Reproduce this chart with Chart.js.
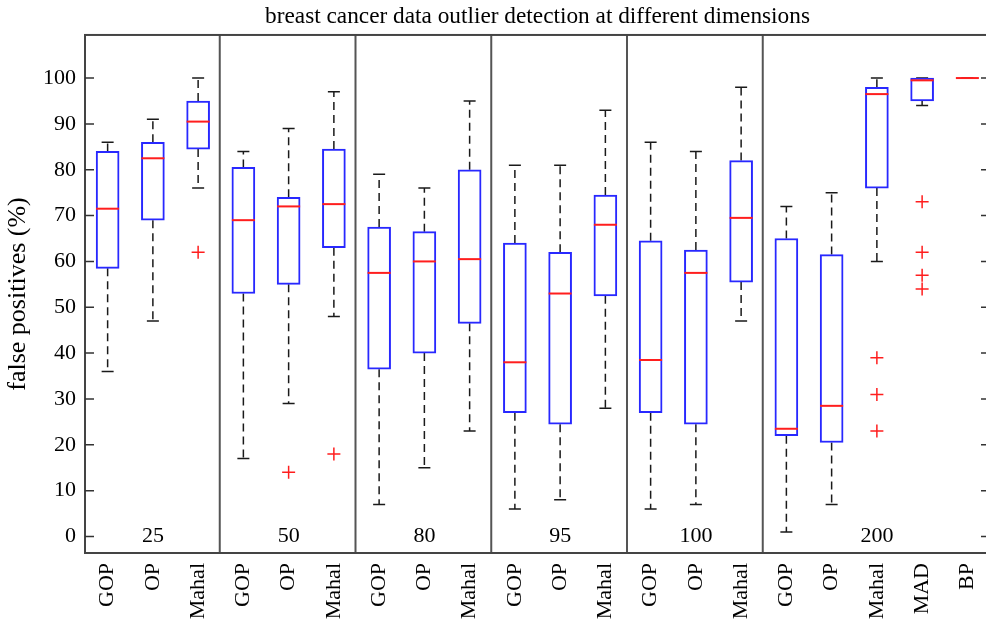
<!DOCTYPE html>
<html>
<head>
<meta charset="utf-8">
<script src="https://cdn.jsdelivr.net/npm/chart.js@4"></script>
<style>
  html, body { margin: 0; padding: 0; background: #fff; overflow: hidden; }
  #boxChart { display: block; }
</style>
</head>
<body>
<canvas id="boxChart" width="998" height="621"></canvas>
<script>
// methods per dimension group, left to right
const methods = ['GOP', 'OP', 'Mahal', 'GOP', 'OP', 'Mahal', 'GOP', 'OP', 'Mahal',
  'GOP', 'OP', 'Mahal', 'GOP', 'OP', 'Mahal', 'GOP', 'OP', 'Mahal', 'MAD', 'BP'];
const dimensions = ['25', '50', '80', '95', '100', '200'];
const groupSizes = [3, 3, 3, 3, 3, 5];

// five-number summaries (false positives, %)
const lowerWhisker  = [36, 47, 76,   17, 29, 48,     7, 15, 23,     6, 8, 28,      6, 7, 47,      1, 7, 60, 94, 100];
const lowerQuartile = [58.5, 69, 84.5, 53, 55, 63,   36.5, 40, 46.5, 27, 24.5, 52.5, 27, 24.5, 55.5, 22, 20.5, 76, 95, 100];
const medians       = [71.5, 82.5, 90.5, 69, 72, 72.5, 57.5, 60, 60.5, 38, 53, 68,  38.5, 57.5, 69.5, 23.5, 28.5, 96.5, 99.5, 100];
const upperQuartile = [84, 86, 95,   80.5, 74, 84.5, 67.5, 66.5, 80,  64, 62, 74.5,  64.5, 62.5, 82, 65, 61.5, 98, 100, 100];
const upperWhisker  = [86, 91, 100,  84, 89, 97,     79, 76, 95,     81, 81, 93,     86, 84, 98,    72, 75, 100, 100, 100];

// outliers: category index and value
const outlierIndex = [2, 4, 5, 17, 17, 17, 18, 18, 18, 18];
const outlierValue = [62, 14, 18, 39, 31, 23, 73, 62, 57, 54];

const yTicks = [0, 10, 20, 30, 40, 50, 60, 70, 80, 90, 100];

const SERIF = "'Liberation Serif', 'Times New Roman', serif";
const BLUE = 'rgb(40,40,255)';
const RED = 'rgb(255,30,30)';

const boxParts = {
  id: 'boxParts',
  beforeDatasetsDraw(chart) {
    const { ctx, scales: { x, y } } = chart;
    ctx.save();
    ctx.strokeStyle = '#1a1a1a';
    ctx.lineWidth = 1.5;
    methods.forEach((m, i) => {
      const px = x.getPixelForValue(i);
      const lo = y.getPixelForValue(lowerWhisker[i]);
      const q1 = y.getPixelForValue(lowerQuartile[i]);
      const q3 = y.getPixelForValue(upperQuartile[i]);
      const hi = y.getPixelForValue(upperWhisker[i]);
      ctx.setLineDash([8, 5]);
      ctx.beginPath();
      ctx.moveTo(px, q3); ctx.lineTo(px, hi);
      ctx.moveTo(px, q1); ctx.lineTo(px, lo);
      ctx.stroke();
      ctx.setLineDash([]);
      ctx.beginPath();
      ctx.moveTo(px - 6, hi); ctx.lineTo(px + 6, hi);
      ctx.moveTo(px - 6, lo); ctx.lineTo(px + 6, lo);
      ctx.stroke();
    });
    ctx.restore();
  },
  afterDatasetsDraw(chart) {
    const { ctx, scales: { x, y } } = chart;
    ctx.save();
    ctx.strokeStyle = RED;
    ctx.lineWidth = 2;
    medians.forEach((v, i) => {
      const px = x.getPixelForValue(i);
      const py = y.getPixelForValue(v);
      ctx.beginPath();
      ctx.moveTo(px - 11.5, py); ctx.lineTo(px + 11.5, py);
      ctx.stroke();
    });
    ctx.restore();
  },
  afterDraw(chart) {
    const { ctx, chartArea: a, scales: { x, y } } = chart;
    ctx.save();
    // group separators and dimension labels
    ctx.strokeStyle = '#555';
    ctx.lineWidth = 2;
    let start = 0;
    groupSizes.forEach((n, g) => {
      const mid = start + Math.floor(n / 2);
      if (g > 0) {
        const sx = (x.getPixelForValue(start - 1) + x.getPixelForValue(start)) / 2 - 1;
        ctx.beginPath();
        ctx.moveTo(sx, a.top); ctx.lineTo(sx, a.bottom);
        ctx.stroke();
      }
      ctx.fillStyle = '#000';
      ctx.font = '22px ' + SERIF;
      ctx.textAlign = 'center';
      ctx.textBaseline = 'middle';
      ctx.fillText(dimensions[g], x.getPixelForValue(mid), y.getPixelForValue(0));
      start += n;
    });
    // frame
    ctx.strokeStyle = '#444';
    ctx.strokeRect(a.left, a.top, a.right - a.left, a.bottom - a.top);
    // inward y ticks on both sides
    ctx.lineWidth = 1.5;
    ctx.strokeStyle = '#333';
    yTicks.forEach(v => {
      const py = y.getPixelForValue(v);
      ctx.beginPath();
      ctx.moveTo(a.left, py); ctx.lineTo(a.left + 9, py);
      ctx.moveTo(a.right, py); ctx.lineTo(a.right - 9, py);
      ctx.stroke();
    });
    ctx.restore();
  }
};

new Chart(document.getElementById('boxChart'), {
  type: 'bar',
  data: {
    labels: methods,
    datasets: [{
      label: 'boxes',
      data: methods.map((m, i) => [lowerQuartile[i], upperQuartile[i]]),
      backgroundColor: '#fff',
      borderColor: BLUE,
      borderWidth: 2,
      borderSkipped: false,
      barThickness: 23
    }, {
      type: 'scatter',
      label: 'outliers',
      parsing: false,
      data: outlierIndex.map((c, i) => ({ x: c, y: outlierValue[i] })),
      pointStyle: 'cross',
      pointRadius: 6.5,
      borderColor: RED,
      backgroundColor: RED,
      borderWidth: 1.5
    }]
  },
  options: {
    responsive: false,
    animation: false,
    layout: { padding: { left: 0, right: 3, top: 0, bottom: 0 } },
    plugins: {
      legend: { display: false },
      tooltip: { enabled: false },
      title: {
        display: true,
        fullSize: false,
        text: 'breast cancer data outlier detection at different dimensions',
        color: '#000',
        font: { family: SERIF, size: 23.3, weight: 'normal' },
        padding: { top: 3, bottom: 4 }
      }
    },
    scales: {
      x: {
        type: 'category',
        grid: { display: false, drawTicks: false },
        border: { display: false },
        ticks: {
          autoSkip: false,
          minRotation: 90,
          maxRotation: 90,
          padding: 10,
          color: '#000',
          font: { family: SERIF, size: 22 }
        },
        afterFit(scale) {
          scale.height = 68;
          scale.paddingLeft = 0;
          scale.paddingRight = 0;
        }
      },
      y: {
        type: 'linear',
        min: -3.6,
        max: 109.4,
        grid: { display: false, drawTicks: false },
        border: { display: false },
        ticks: {
          padding: 9,
          color: '#000',
          font: { family: SERIF, size: 22 }
        },
        afterBuildTicks(scale) { scale.ticks = yTicks.map(v => ({ value: v })); },
        afterFit(scale) { scale.width = 85; },
        title: {
          display: true,
          text: 'false positives (%)',
          color: '#000',
          font: { family: SERIF, size: 26 },
          padding: { top: 3 }
        }
      }
    }
  },
  plugins: [boxParts]
});
</script>
</body>
</html>
